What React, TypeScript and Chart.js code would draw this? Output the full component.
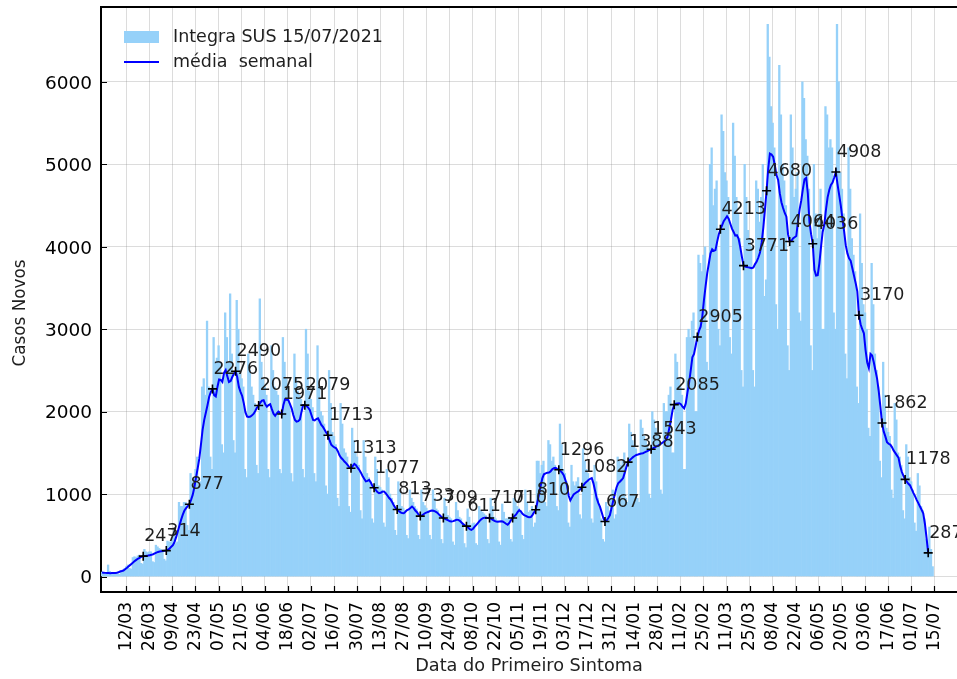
import React, { useEffect, useRef } from 'react';
import { Chart, registerables } from 'chart.js';

Chart.register(...registerables);

// Day index 0 = 26/02/2020 (first bar); one bar per day up to 14/07/2021
const xTickLabels = [
  '12/03', '26/03', '09/04', '23/04', '07/05', '21/05', '04/06', '18/06', '02/07', '16/07',
  '30/07', '13/08', '27/08', '10/09', '24/09', '08/10', '22/10', '05/11', '19/11', '03/12',
  '17/12', '31/12', '14/01', '28/01', '11/02', '25/02', '11/03', '25/03', '08/04', '22/04',
  '06/05', '20/05', '03/06', '17/06', '01/07', '15/07',
];
const firstTickDay = 15; // 12/03/2020
const tickStepDays = 14;
const yTickValues = [0, 1000, 2000, 3000, 4000, 5000, 6000];

// daily new cases (Integra SUS 15/07/2021), weeks starting on Wednesday
const dailyCases = [
  55, 50, 48, 30, 140, 62, 50,
  48, 46, 52, 30, 28, 70, 75,
  100, 120, 140, 100, 90, 230, 240,
  230, 250, 260, 160, 150, 330, 300,
  290, 300, 300, 180, 170, 380, 360,
  340, 330, 320, 210, 190, 430, 420,
  420, 470, 560, 400, 420, 900, 850,
  850, 900, 900, 620, 560, 1250, 1150,
  1200, 1300, 1450, 1100, 1150, 2300, 2400,
  2200, 3100, 2300, 1450, 1300, 2900, 2600,
  2650, 2800, 2600, 1600, 1500, 3200, 2900,
  2600, 3430, 2700, 1650, 1500, 3350, 3000,
  2500, 2400, 2300, 1300, 1200, 2700, 2500,
  2300, 2200, 2100, 1350, 1250, 3370, 2600,
  2400, 2300, 2200, 1300, 1200, 2800, 2500,
  2300, 2250, 2200, 1300, 1250, 2900, 2600,
  2400, 2300, 2100, 1250, 1150, 2700, 2400,
  2250, 2200, 2150, 1300, 1200, 3000, 2700,
  2250, 2150, 2050, 1250, 1150, 2800, 2300,
  2000, 1950, 1850, 1100, 1000, 2500, 2100,
  1750, 1700, 1600, 950, 850, 2100, 1850,
  1550, 1500, 1450, 850, 780, 1800, 1650,
  1500, 1450, 1350, 800, 700, 1650, 1450,
  1250, 1200, 1150, 700, 650, 1450, 1300,
  1100, 1080, 1050, 650, 600, 1300, 1200,
  1000, 950, 900, 560, 500, 1150, 1050,
  850, 830, 800, 500, 460, 1050, 950,
  900, 850, 820, 500, 450, 1050, 900,
  860, 830, 800, 500, 450, 1050, 950,
  820, 800, 750, 450, 400, 950, 850,
  740, 720, 700, 420, 380, 900, 800,
  720, 700, 650, 400, 350, 820, 720,
  620, 640, 650, 400, 380, 850, 800,
  780, 760, 740, 450, 400, 950, 850,
  720, 700, 680, 420, 380, 880, 780,
  700, 700, 720, 450, 420, 950, 900,
  850, 830, 800, 500, 450, 1050, 900,
  780, 800, 850, 600, 650, 1400, 1400,
  1250, 1350, 1400, 900, 850, 1650, 1600,
  1400, 1450, 1350, 850, 800, 1850, 1600,
  1300, 1250, 1150, 650, 600, 1350, 1150,
  1100, 1150, 1200, 750, 700, 1550, 1400,
  1300, 1250, 1150, 700, 650, 1350, 1150,
  950, 850, 700, 450, 420, 900, 850,
  800, 950, 1050, 700, 750, 1450, 1400,
  1350, 1400, 1500, 950, 900, 1850, 1750,
  1650, 1600, 1550, 950, 900, 1900, 1800,
  1700, 1650, 1600, 1000, 950, 2000, 1900,
  1800, 1750, 1700, 1050, 1000, 2100, 2000,
  2000, 2200, 2300, 1500, 1500, 2700, 2600,
  2400, 2300, 2200, 1300, 1300, 2900, 3000,
  2900, 3100, 3200, 2000, 2000, 3900, 3800,
  3700, 3900, 4000, 2600, 2500, 5000, 5200,
  4500, 4700, 4800, 3000, 2800, 5600, 5400,
  4900, 4800, 4600, 2900, 2700, 5500, 5100,
  4600, 4400, 4100, 2500, 2300, 5000, 4600,
  4200, 4100, 4000, 2500, 2300, 4800, 4700,
  4300, 4600, 5000, 3400, 3600, 6700, 6300,
  5700, 5500, 5200, 3300, 3000, 6200, 5600,
  5000, 4800, 4500, 2800, 2500, 5600, 5200,
  4600, 4700, 4900, 3200, 3100, 6000, 5800,
  5300, 5100, 4700, 2800, 2500, 5000, 4400,
  4100, 4400, 4700, 3000, 3000, 5700, 5600,
  5200, 5300, 5200, 3200, 3000, 6700, 6000,
  4900, 4700, 4400, 2700, 2400, 5200, 4700,
  4100, 3900, 3700, 2300, 2100, 4400, 3800,
  3300, 3200, 3000, 1800, 1700, 3800, 3300,
  2700, 2500, 2300, 1400, 1200, 2600, 2200,
  1800, 1750, 1700, 1050, 950, 2100, 1900,
  1500, 1450, 1350, 800, 700, 1600, 1450,
  1200, 1150, 1050, 650, 550, 1250, 1100,
  850, 800, 700, 450, 380, 600, 330,
  120,
];

// 7-day moving average ("média semanal"), one value per day, centred
const weeklyAverage = [
  48, 46, 44, 42, 41, 40, 41, 42, 43, 46,
  52, 60, 66, 73, 88, 104, 121, 138, 155, 172,
  190, 205, 218, 230, 240, 247, 250, 252, 255, 259,
  263, 270, 280, 290, 298, 303, 306, 309, 312, 314,
  325, 340, 360, 380, 420, 480, 550, 620, 690, 750,
  800, 830, 855, 877, 930, 990, 1080, 1200, 1310, 1430,
  1600, 1780, 1900, 1990, 2080, 2180, 2240, 2276, 2200, 2185,
  2300, 2390, 2385, 2360, 2470, 2505, 2430, 2360, 2370, 2420,
  2460, 2490, 2420, 2300, 2240, 2190, 2100, 1990, 1940, 1935,
  1940, 1955, 1975, 2010, 2050, 2075, 2110, 2135, 2140, 2090,
  2060, 2080, 2090, 2030, 1975, 1950, 1980, 2000, 1985, 1971,
  2080, 2150, 2145, 2140, 2090, 2040, 1960, 1900, 1880, 1885,
  1905, 2000, 2080, 2079, 2070, 2050, 2020, 1960, 1900, 1895,
  1910, 1920, 1880, 1840, 1815, 1780, 1745, 1713, 1650, 1600,
  1580, 1565, 1555, 1520, 1470, 1440, 1420, 1395, 1375, 1350,
  1325, 1313, 1340, 1365, 1350, 1320, 1295, 1260, 1220, 1185,
  1155, 1160, 1172, 1140, 1100, 1077, 1050, 1025, 1010, 1015,
  1030, 1032, 1010, 985, 955, 935, 900, 860, 830, 813,
  795, 778, 770, 768, 785, 805, 815, 830, 848, 830,
  800, 780, 750, 733, 740, 755, 770, 778, 785, 795,
  800, 798, 790, 778, 760, 740, 720, 709, 700, 690,
  680, 670, 667, 672, 680, 688, 687, 675, 655, 635,
  620, 611, 595, 575, 566, 580, 605, 627, 650, 675,
  695, 708, 712, 713, 711, 710, 700, 688, 675, 667,
  665, 668, 670, 667, 655, 640, 628, 650, 685, 710,
  730, 750, 780, 805, 790, 760, 745, 735, 725, 718,
  720, 745, 780, 810, 900, 1000, 1100, 1190, 1240, 1252,
  1258, 1262, 1275, 1300, 1315, 1318, 1305, 1296, 1280, 1260,
  1230, 1170, 1100, 980, 925, 960, 995, 1010, 1025, 1035,
  1060, 1082, 1110, 1135, 1152, 1170, 1185, 1193, 1130, 1040,
  950, 890, 845, 780, 710, 667, 680, 710, 745, 830,
  920, 1000, 1080, 1130, 1150, 1170, 1195, 1260, 1330, 1388,
  1410, 1430, 1448, 1462, 1475, 1480, 1486, 1492, 1496, 1505,
  1515, 1525, 1535, 1543, 1555, 1565, 1575, 1585, 1596, 1610,
  1625, 1640, 1655, 1700, 1800, 1900, 2020, 2085, 2095, 2100,
  2102, 2090, 2060, 2040, 2100, 2230, 2350, 2500, 2660, 2700,
  2800, 2905, 2980, 3030, 3150, 3350, 3520, 3680, 3800, 3920,
  3970, 3950, 3960, 4060, 4150, 4213, 4260, 4310, 4340, 4370,
  4340, 4280, 4220, 4180, 4135, 4140, 4100, 4000, 3880, 3771,
  3760, 3755, 3750, 3745, 3740, 3750, 3790, 3820, 3870, 3930,
  4050, 4230, 4450, 4680, 4950, 5130, 5120, 5090, 4990, 4870,
  4810, 4650, 4540, 4470, 4410, 4365, 4150, 4064, 4070, 4100,
  4115, 4130, 4300, 4450, 4560, 4700, 4820, 4835, 4650, 4300,
  4150, 4036, 3720, 3650, 3655, 3800, 4000, 4180, 4270, 4450,
  4600, 4690, 4750, 4780, 4840, 4908, 4760, 4630, 4500, 4340,
  4190, 4020, 3920, 3860, 3830, 3740, 3650, 3560, 3460, 3170,
  3060, 3000, 2950, 2750, 2600, 2530, 2700, 2680, 2600, 2500,
  2400, 2250, 2060, 1862, 1760, 1700, 1630, 1610, 1600, 1570,
  1530, 1500, 1470, 1440, 1340, 1270, 1220, 1178, 1150, 1125,
  1105, 1060, 1015, 975, 930, 890, 850, 810, 765, 640,
  470, 287,
];
const averageShift = 0.3; // average plotted slightly right of the bar day

// labelled values of the weekly average (26/03/2020 ... 15/07/2021, every 14 days)
const markerLabels = [
  247, 314, 877, 2276, 2490, 2075, 1971, 2079, 1713, 1313,
  1077, 813, 733, 709, 611, 710, 710, 810, 1296, 1082,
  667, 1388, 1543, 2085, 2905, 4213, 3771, 4680, 4064, 4036,
  4908, 3170, 1862, 1178, 287,
];
const firstMarkerIndex = 25;

const seriesLabels = ['Integra SUS 15/07/2021', 'média  semanal'];
const axisTitles = { x: 'Data do Primeiro Sintoma', y: 'Casos Novos' };
const barColor = '#96d1f9';
const lineColor = '#0000ff';
const gridColor = 'rgba(128,128,128,0.28)';
const FONT = '"DejaVu Sans", sans-serif';

const tickDays = xTickLabels.map((_, i) => firstTickDay + i * tickStepDays);

const zeroPadding = (s: any) => {
  s.paddingTop = 0;
  s.paddingBottom = 0;
  s.paddingLeft = 0;
  s.paddingRight = 0;
};

const overlayPlugin = {
  id: 'overlay',
  afterDraw(chart: any) {
    const { ctx, chartArea: a, scales } = chart;
    const x = scales.x;
    const y = scales.y;
    ctx.save();
    // top spine
    ctx.strokeStyle = '#000';
    ctx.lineWidth = 2;
    ctx.beginPath();
    ctx.moveTo(a.left - 1, a.top);
    ctx.lineTo(a.right, a.top);
    ctx.stroke();
    // inward tick marks
    ctx.lineWidth = 1.2;
    ctx.beginPath();
    x.ticks.forEach((t: any) => {
      const px = Math.round(x.getPixelForValue(t.value)) + 0.5;
      ctx.moveTo(px, a.bottom);
      ctx.lineTo(px, a.bottom - 6);
    });
    y.ticks.forEach((t: any) => {
      const py = Math.round(y.getPixelForValue(t.value)) + 0.5;
      ctx.moveTo(a.left, py);
      ctx.lineTo(a.left + 6, py);
    });
    ctx.stroke();
    // value labels at markers
    const meta = chart.getDatasetMeta(2);
    ctx.font = `17.5px ${FONT}`;
    ctx.fillStyle = '#1e1e1e';
    ctx.textAlign = 'left';
    ctx.textBaseline = 'alphabetic';
    meta.data.forEach((pt: any, i: number) => {
      ctx.fillText(String(markerLabels[i]), pt.x + 1, pt.y - 15);
    });
    // legend
    const lx = a.left + 23;
    ctx.fillStyle = barColor;
    ctx.fillRect(lx, a.top + 24, 35, 12);
    ctx.strokeStyle = lineColor;
    ctx.lineWidth = 2;
    ctx.beginPath();
    ctx.moveTo(lx, a.top + 55);
    ctx.lineTo(lx + 35, a.top + 55);
    ctx.stroke();
    ctx.fillStyle = '#1e1e1e';
    ctx.textBaseline = 'middle';
    ctx.fillText(seriesLabels[0], lx + 49, a.top + 30.5);
    ctx.fillText(seriesLabels[1], lx + 49, a.top + 55);
    // y axis title
    ctx.save();
    ctx.translate(21, 313);
    ctx.rotate(-Math.PI / 2);
    ctx.textAlign = 'center';
    ctx.textBaseline = 'middle';
    ctx.font = `16.8px ${FONT}`;
    ctx.fillStyle = '#1e1e1e';
    ctx.fillText(axisTitles.y, 0, 0);
    ctx.restore();
    ctx.restore();
  },
};

export default function App() {
  const canvasRef = useRef<HTMLCanvasElement | null>(null);

  useEffect(() => {
    const canvas = canvasRef.current;
    if (!canvas) return;
    const chart = new Chart(canvas, {
      type: 'bar',
      data: {
        datasets: [
          {
            type: 'bar',
            label: seriesLabels[0],
            data: dailyCases.map((v, d) => ({ x: d, y: v })),
            backgroundColor: barColor,
            borderWidth: 0,
            barPercentage: 1,
            categoryPercentage: 1,
            order: 3,
          } as any,
          {
            type: 'line',
            label: seriesLabels[1],
            data: weeklyAverage.map((v, k) => ({ x: k + averageShift, y: v })),
            borderColor: lineColor,
            borderWidth: 2,
            pointRadius: 0,
            tension: 0,
            fill: false,
            order: 2,
          },
          {
            type: 'line',
            label: 'marcadores',
            data: markerLabels.map((v, i) => ({
              x: firstMarkerIndex + i * tickStepDays + averageShift,
              y: v,
            })),
            showLine: false,
            pointStyle: 'cross',
            pointRadius: 4.5,
            pointBorderColor: '#000',
            pointBorderWidth: 1.6,
            pointBackgroundColor: '#000',
            order: 1,
          },
        ],
      },
      options: {
        responsive: false,
        animation: false,
        devicePixelRatio: 1,
        layout: { autoPadding: false, padding: { top: 7, right: 0, left: 0, bottom: 0 } },
        plugins: {
          legend: { display: false },
          tooltip: { enabled: false },
        },
        scales: {
          x: {
            type: 'linear',
            min: -0.3,
            max: 518.76,
            offset: false,
            z: 1,
            afterBuildTicks: (s: any) => {
              s.ticks = tickDays.map((v) => ({ value: v }));
            },
            afterFit: (s: any) => {
              s.height = 87;
              zeroPadding(s);
            },
            grid: { color: gridColor, lineWidth: 1, drawTicks: false, offset: false },
            border: { display: true, color: '#000', width: 2 },
            ticks: {
              autoSkip: false,
              minRotation: 90,
              maxRotation: 90,
              padding: 10,
              color: '#000',
              font: { family: FONT, size: 17 },
              callback: (v: any) => {
                const i = tickDays.indexOf(Math.round(Number(v)));
                return i >= 0 ? xTickLabels[i] : '';
              },
            },
            title: {
              display: true,
              text: axisTitles.x,
              color: '#222',
              font: { family: FONT, size: 17.7 },
              padding: { top: 0, bottom: 2 },
            },
          },
          y: {
            type: 'linear',
            min: -188,
            max: 6909,
            z: 1,
            afterBuildTicks: (s: any) => {
              s.ticks = yTickValues.map((v) => ({ value: v }));
            },
            afterFit: (s: any) => {
              s.width = 101;
              zeroPadding(s);
            },
            grid: { color: gridColor, lineWidth: 1, drawTicks: false },
            border: { display: true, color: '#000', width: 2 },
            ticks: {
              padding: 9,
              labelOffset: 2,
              color: '#000',
              font: { family: FONT, size: 18.5 },
              callback: (v: any) => String(v),
            },
            title: { display: false },
          },
        },
      },
      plugins: [overlayPlugin],
    } as any);
    return () => chart.destroy();
  }, []);

  return (
    <div style={{ position: 'absolute', left: 0, top: 0, width: 957, height: 679, background: '#fff' }}>
      <canvas ref={canvasRef} width={957} height={679} style={{ display: 'block' }} />
    </div>
  );
}
